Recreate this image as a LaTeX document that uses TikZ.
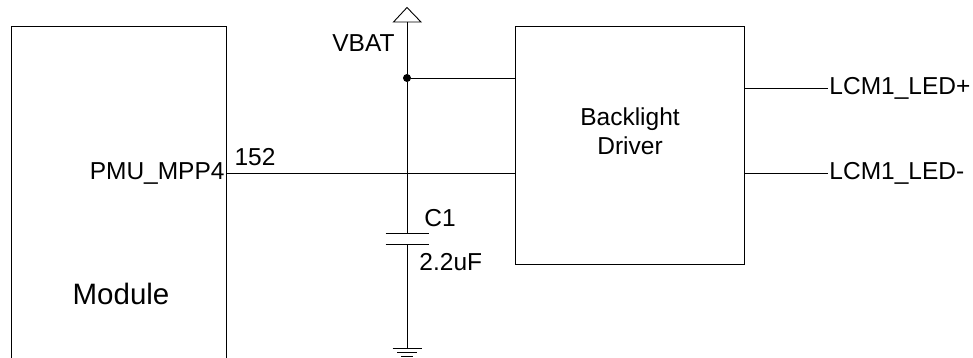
\documentclass[tikz,border=0pt]{standalone}
\usepackage{fontspec}
\setmainfont{Liberation Sans}
\usetikzlibrary{positioning}

\begin{document}
\begin{tikzpicture}[x=1pt, y=-1pt, line width=0.9pt,
	box/.style = {draw, outer sep=0pt, inner sep=0pt},
	dot/.style = {draw, fill=black, circle, inner sep=0pt, minimum size=7pt},
	lbl/.style = {draw=none, inner sep=0pt, font=\fontsize{24.5}{29}\selectfont, align=center},
	big/.style = {lbl, font=\fontsize{29.5}{34}\selectfont}]
\useasboundingbox (0,0) rectangle (973,358);
\node[box, minimum width=215pt, minimum height=340pt] (module) at (118.5,196) {};
\node[box, minimum width=229pt, minimum height=238pt] (driver) at (629.5,145) {};
\node[dot] (junction) at (407,78) {};
\coordinate (pin) at (226,173);
\coordinate (vbat) at (407,22);
\coordinate (tip) at (407,7.5);
\coordinate (vbatl) at (393.5,22);
\coordinate (vbatr) at (421,22);
\coordinate (plateup) at (407,233.7);
\coordinate (platedn) at (407,244);
\coordinate (gnd) at (407,348.3);
\coordinate (ledp) at (828,88);
\coordinate (ledn) at (828,173);
\node[lbl, anchor=east] (mpp) at (225,174) {PMU\_MPP4};
\node[lbl] (net) at (255,157) {152};
\node[lbl, anchor=east] (vbatname) at (395,43) {VBAT};
\node[lbl, anchor=west] (c1) at (424,218) {C1};
\node[lbl, anchor=west] (c1val) at (419,262) {2.2uF};
\node[lbl] (back) at (630,131.5) {Backlight\\Driver};
\node[big] (name) at (121,294) {Module};
\node[lbl, anchor=west] (outp) [right=1pt of ledp] {LCM1\_LED+};
\node[lbl, anchor=west] (outn) [right=1pt of ledn] {LCM1\_LED-};
\draw (tip) -- (vbatl) -- (vbatr) -- cycle;
\draw (vbat) -- (junction);
\draw (junction) -- (plateup);
\draw (junction) -- (junction -| driver.west);
\draw (pin) -- (pin -| driver.west);
\draw (platedn) -- (gnd);
\draw ([xshift=-21.3pt]plateup) -- ([xshift=22pt]plateup);
\draw ([xshift=-21.3pt]platedn) -- ([xshift=22pt]platedn);
\draw ([xshift=-14.3pt]gnd) -- ([xshift=14.7pt]gnd);
\draw ([xshift=-10pt,yshift=-4.4pt]gnd) -- ([xshift=10pt,yshift=-4.4pt]gnd);
\draw ([xshift=-6pt,yshift=-8.4pt]gnd) -- ([xshift=6pt,yshift=-8.4pt]gnd);
\draw (ledp -| driver.east) -- (ledp);
\draw (ledn -| driver.east) -- (ledn);
\end{tikzpicture}
\end{document}
